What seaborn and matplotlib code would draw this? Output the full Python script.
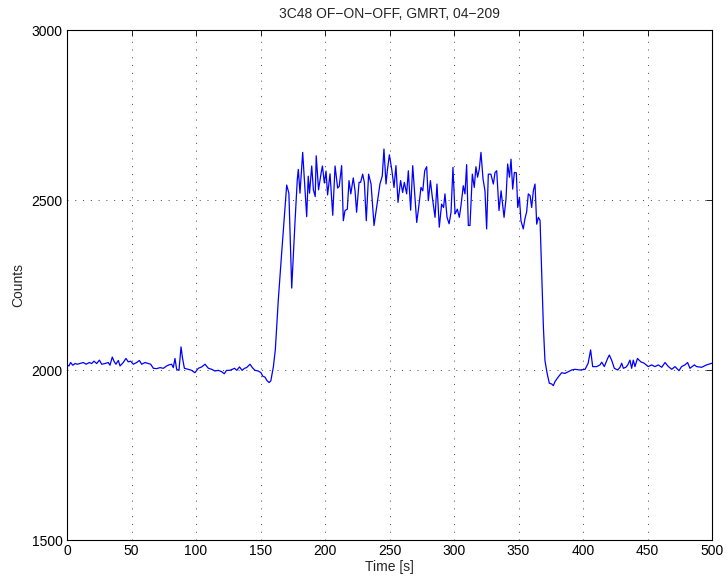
import matplotlib
matplotlib.use("Agg")
import matplotlib.pyplot as plt
import seaborn as sns
import pandas as pd

time_s = [0, 1.5, 2.8, 4.5, 6.2, 8.0, 10.0, 12.7, 14.8, 17.3, 19.1, 20.9, 23.0, 25.1, 26.9, 29.5,
          32.0, 33.3, 35.1, 36.4, 37.9, 39.8, 41.1, 43.6, 45.7, 47.5, 49.3, 51.4, 54.0, 56.1, 57.9,
          60.5, 63.1, 64.9, 66.9, 69.5, 72.1, 74.7, 77.3,
          79.0, 81.1, 82.4, 83.7, 85.0, 86.8, 88.4, 89.5, 91.0, 94.0, 96.6, 99.2, 101.8, 104.4,
          107.0, 109.6, 112.2, 114.7, 117.3, 119.9, 121.9, 123.7, 126.3, 129.9, 131.6, 133.7,
          135.8, 137.6, 139.2, 141.9, 143.7, 145.7, 148.3, 150.4, 151.7, 153.5, 154.8, 156.6,
          158.0, 160.0, 161.5,
          163.8, 166.0, 168.5, 170.3, 172.0, 174.2, 176.7, 178.5, 179.3, 180.6, 182.7, 185.8,
          187.0, 188.0, 189.7, 191.0, 192.4, 193.2, 195.0, 197.0, 198.0, 199.5, 200.8, 202.0,
          203.9, 206.0, 207.8, 209.8, 211.0, 212.9,
          214.2, 215.5, 217.3, 218.6, 220.0, 221.9, 223.3, 224.5, 226.4, 227.6, 229.2, 230.5,
          232.0, 233.8, 235.7, 238.0, 240.0, 242.6, 244.4, 245.7, 247.3, 248.3, 249.9, 251.7,
          253.5, 255.0, 256.6, 258.6, 260.2, 261.5, 263.3, 264.6, 266.4, 268.0, 269.5, 271.1,
          272.6, 274.4, 275.8, 277.3, 278.8, 280.1, 281.7, 283.2, 285.3, 286.8, 288.6, 290.4,
          291.9, 293.0, 294.6, 296.2, 297.7, 299.2, 300.8, 302.6, 304.1, 305.4, 307.2, 308.5,
          309.8, 311.1, 312.4, 314.2, 315.7, 317.0, 318.3, 319.6, 320.9, 322.5, 324.0, 325.3,
          326.6, 328.6, 330.5, 331.8, 333.1, 334.9, 336.5, 338.8, 340.3, 341.6, 343.0, 344.2,
          345.5, 346.8, 348.3, 349.4, 350.7, 351.9, 353.7, 355.0, 356.3, 357.6, 359.0, 360.2,
          361.5, 362.8, 364.1, 365.4, 366.7, 368.0, 369.3, 370.5, 372.3, 373.9, 375.7, 377.0,
          378.3, 380.9, 383.5, 386.0, 388.6, 391.2, 393.8, 397.7, 401.6, 404.0, 405.9, 407.5,
          410.6, 413.2, 414.5, 416.5, 419.1, 420.4, 422.2, 424.3, 426.9, 428.7, 430.0, 431.3,
          433.2, 434.7, 436.4, 437.7, 439.0, 440.3, 442.2, 444.8, 447.4, 450.6, 453.2, 455.8,
          458.4, 461.0, 463.6, 466.2, 468.8, 471.3, 474.4, 476.4, 479.0, 481.1, 482.9, 486.3,
          488.1, 492.0, 495.8, 500.0]

counts = [2015, 2012, 2022, 2014, 2019, 2017, 2019, 2022, 2017, 2022, 2019, 2026, 2019, 2029, 2017, 2019,
          2022, 2014, 2038, 2026, 2017, 2028, 2012, 2022, 2034, 2024, 2026, 2017, 2022, 2028, 2017,
          2022, 2019, 2017, 2005, 2004, 2007, 2005, 2012,
          2015, 2017, 2007, 2034, 2002, 1999, 2068, 2036, 2005, 2002, 1999, 1992, 2005, 2009,
          2017, 2005, 2002, 1997, 1999, 1995, 1989, 1999, 1999, 2005, 1999, 2009,
          1999, 2005, 2007, 2017, 2007, 1999, 1997, 1992, 1982, 1979, 1970, 1963,
          1968, 2010, 2060,
          2206, 2323, 2451, 2544, 2520, 2241, 2432, 2559, 2590, 2520, 2640, 2451,
          2570, 2520, 2600, 2530, 2510, 2630, 2530, 2580, 2600, 2550, 2585, 2515,
          2577, 2455, 2600, 2535, 2540, 2601,
          2439, 2469, 2473, 2557, 2518, 2565, 2527, 2464, 2552, 2552, 2576, 2552,
          2439, 2576, 2547, 2425, 2478, 2547, 2571, 2650, 2547, 2586, 2633, 2591,
          2537, 2601, 2493, 2557, 2522, 2552, 2518, 2586, 2470, 2601, 2518, 2434,
          2478, 2537, 2527, 2586, 2598, 2498, 2557, 2508, 2449, 2547, 2420, 2488,
          2478, 2518, 2449, 2430, 2464, 2596, 2459, 2473, 2449, 2483, 2542, 2518,
          2604, 2425, 2425, 2576, 2537, 2598, 2567, 2591, 2640, 2562, 2527, 2415,
          2576, 2576, 2547, 2581, 2586, 2469, 2527, 2449, 2503, 2606, 2567, 2620,
          2532, 2581, 2580, 2478, 2508, 2439, 2415, 2445, 2465, 2518, 2513, 2478,
          2527, 2547, 2429, 2449, 2440, 2282, 2126, 2028, 1988, 1961, 1959, 1954,
          1966, 1980, 1992, 1990, 1995, 2000, 2002, 2000, 2002, 2020, 2059, 2010,
          2010, 2015, 2023, 2010, 2034, 2044, 2029, 2005, 2000, 2008, 2020, 2005,
          2008, 2015, 2029, 2005, 2029, 2010, 2034, 2024, 2020, 2010, 2015, 2010,
          2015, 2008, 2022, 2010, 2002, 2010, 1998, 2010, 2015, 2022, 2005, 2015,
          2010, 2008, 2015, 2020]

x_ticks = [0, 50, 100, 150, 200, 250, 300, 350, 400, 450, 500]
y_ticks = [1500, 2000, 2500, 3000]
title = "3C48 OF\u2212ON\u2212OFF, GMRT, 04\u2212209"
xlabel = "Time [s]"
ylabel = "Counts"

sns.set_style("white")
plt.rcParams['font.family'] = ['Liberation Sans', 'DejaVu Sans']
plt.rcParams['axes.unicode_minus'] = True

df = pd.DataFrame({"t": time_s, "c": counts})

fig = plt.figure(figsize=(7.28, 5.76), dpi=100)
ax = fig.add_axes([67 / 728, 1 - 540 / 576, (712 - 67) / 728, (540 - 30) / 576])
sns.lineplot(data=df, x="t", y="c", ax=ax, color=(0, 0, 1), linewidth=0.9, sort=False)

ax.set_xlim(0, 500)
ax.set_ylim(1500, 3000)
ax.set_xticks(x_ticks)
ax.set_yticks(y_ticks)
ax.tick_params(direction="in", top=True, right=True, length=4, width=0.6,
               labelsize=10, colors="black", pad=3)
ax.grid(True, linestyle=(0, (1, 7)), color="#444444", linewidth=0.7)
for s in ax.spines.values():
    s.set_visible(True)
    s.set_color("black")
    s.set_linewidth(0.8)
ax.set_title(title, fontsize=10, pad=9)
ax.set_xlabel(xlabel, fontsize=10, labelpad=1)
ax.set_ylabel(ylabel, fontsize=10, labelpad=5)

fig.savefig("out.png", dpi=100, facecolor="white")
